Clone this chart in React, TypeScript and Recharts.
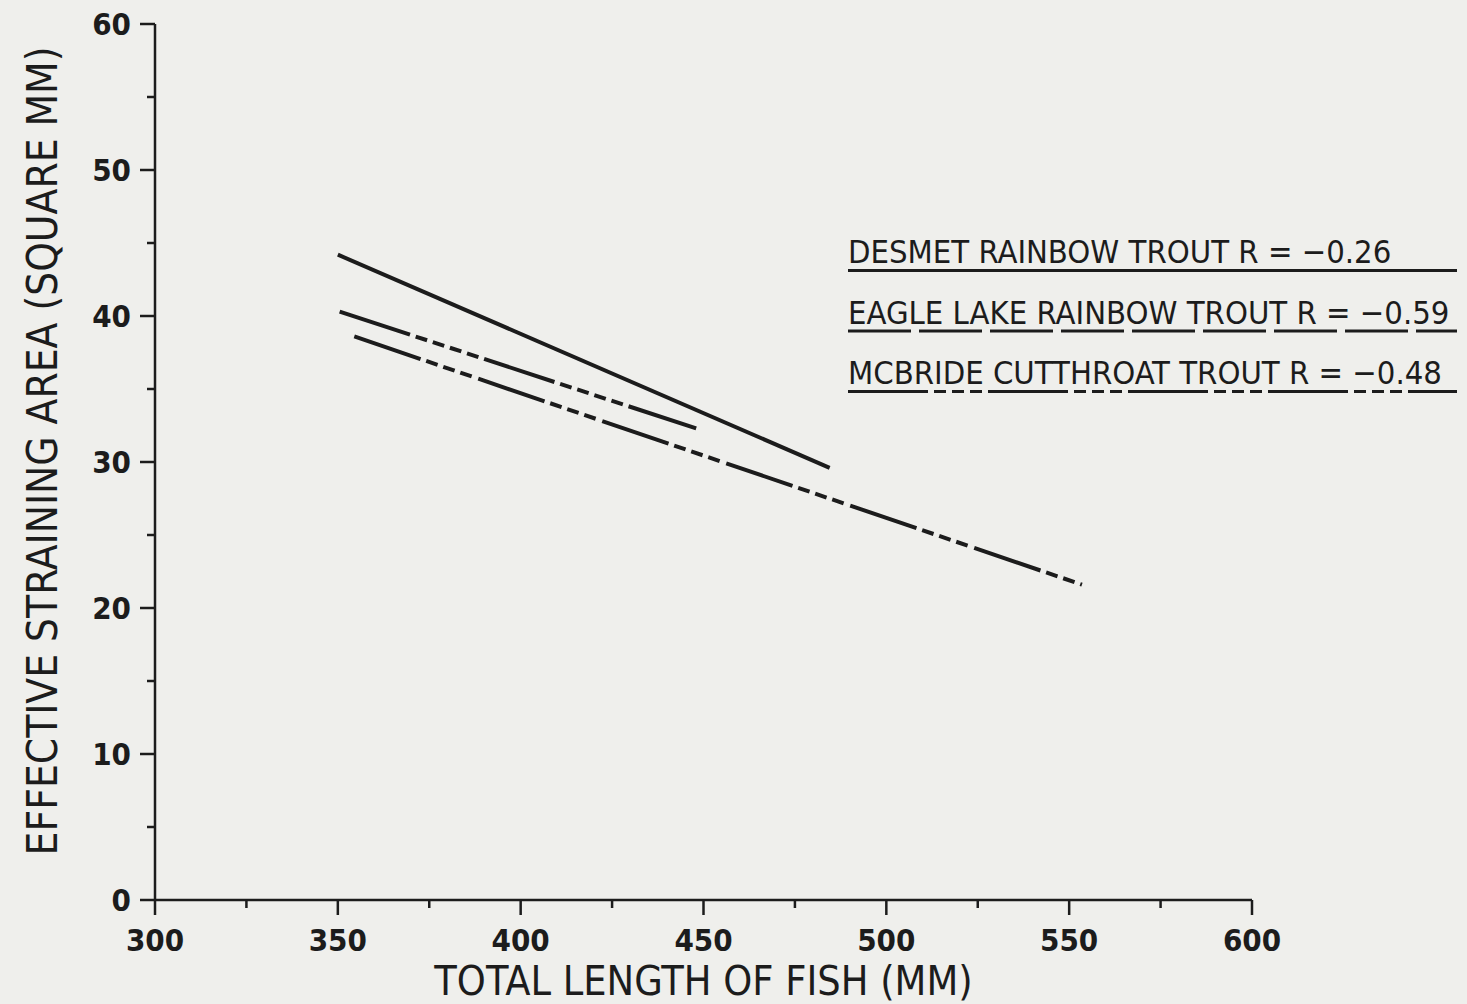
import React from 'react';
import { LineChart, Line, XAxis, YAxis, Legend } from 'recharts';

const INK = '#1c1c1c';
const PAPER = '#efefec';
const FONT = "'DejaVu Sans Condensed', 'DejaVu Sans', sans-serif";

const seriesNames = ['DESMET RAINBOW TROUT', 'EAGLE LAKE RAINBOW TROUT', 'MCBRIDE CUTTHROAT TROUT'];
const seriesR = ['−0.26', '−0.59', '−0.48'];

// regression lines, end points
const desmetLength = [350, 484.5];
const desmetArea = [44.2, 29.6];
const eagleLength = [350.5, 448];
const eagleArea = [40.3, 32.3];
const mcbrideLength = [354.5, 553.5];
const mcbrideArea = [38.6, 21.6];

const lengthTicks = [300, 325, 350, 375, 400, 425, 450, 475, 500, 525, 550, 575, 600];
const areaTicks = [0, 5, 10, 15, 20, 25, 30, 35, 40, 45, 50, 55, 60];

const toPoints = (xs: number[], ys: number[]) => xs.map((x, i) => ({ length: x, area: ys[i] }));

const lineDash = ['', '74 6 12 6 12 6 12 6 12 6', '70 6 12 6 12 6 12 7'];
const legendDash = ['', '63 8', '80 6 12 6 12 6 12 6'];

const series = [
    toPoints(desmetLength, desmetArea),
    toPoints(eagleLength, eagleArea),
    toPoints(mcbrideLength, mcbrideArea),
];

function XTick(props: any) {
    const { x, y, payload } = props;
    const major = payload.value % 50 === 0;
    return (
        <g>
            <line x1={x} y1={y} x2={x} y2={y + (major ? 15 : 8)} stroke={INK} strokeWidth={2.5} />
            {major && (
                <text x={x} y={y + 51} textAnchor="middle" fill={INK}
                    style={{ fontFamily: FONT, fontSize: 31, fontWeight: 'bold' }}>
                    {payload.value}
                </text>
            )}
        </g>
    );
}

function YTick(props: any) {
    const { x, y, payload } = props;
    const major = payload.value % 10 === 0;
    return (
        <g>
            <line x1={x - (major ? 15 : 8)} y1={y} x2={x} y2={y} stroke={INK} strokeWidth={2.5} />
            {major && (
                <text x={x - 24} y={y + 11} textAnchor="end" fill={INK}
                    style={{ fontFamily: FONT, fontSize: 31, fontWeight: 'bold' }}>
                    {payload.value}
                </text>
            )}
        </g>
    );
}

function YTitle(props: any) {
    const { viewBox } = props;
    const cy = viewBox.y + viewBox.height / 2 - 11;
    return (
        <text x={57} y={cy} transform={`rotate(-90 57 ${cy})`} textAnchor="middle" fill={INK}
            style={{ fontFamily: FONT, fontSize: 42 }}>
            EFFECTIVE STRAINING AREA (SQUARE MM)
        </text>
    );
}

function KeyBox() {
    return (
        <svg width={620} height={170} style={{ display: 'block' }}>
            {seriesNames.map((name, i) => {
                const base = 33 + i * 60.5;
                return (
                    <g key={name}>
                        <text x={2} y={base} fill={INK} style={{ fontFamily: FONT, fontSize: 32.5 }}>
                            {`${name} R = ${seriesR[i]}`}
                        </text>
                        <line x1={2} x2={611} y1={base + 7.5} y2={base + 7.5} stroke={INK}
                            strokeWidth={3} strokeDasharray={legendDash[i] || undefined} />
                    </g>
                );
            })}
        </svg>
    );
}

export default function App() {
    return (
        <div style={{ position: 'absolute', left: 0, top: 0, width: 1467, height: 1004, background: PAPER }}>
            <LineChart width={1467} height={1004} margin={{ top: 24, right: 215, left: 1, bottom: 0 }}>
                <XAxis
                    type="number"
                    dataKey="length"
                    domain={[300, 600]}
                    ticks={lengthTicks}
                    interval={0}
                    height={104}
                    tickSize={0}
                    tickMargin={0}
                    tickLine={false}
                    axisLine={{ stroke: INK, strokeWidth: 2.5 }}
                    tick={<XTick />}
                    allowDataOverflow
                    label={{
                        value: 'TOTAL LENGTH OF FISH (MM)',
                        position: 'insideBottom',
                        offset: 9,
                        fill: INK,
                        style: { fontFamily: FONT, fontSize: 41 },
                    }}
                />
                <YAxis
                    type="number"
                    domain={[0, 60]}
                    ticks={areaTicks}
                    interval={0}
                    width={154}
                    tickSize={0}
                    tickMargin={0}
                    tickLine={false}
                    axisLine={{ stroke: INK, strokeWidth: 2.5 }}
                    tick={<YTick />}
                    label={<YTitle />}
                />
                <Legend
                    layout="horizontal"
                    verticalAlign="middle"
                    align="center"
                    content={() => <KeyBox />}
                    wrapperStyle={{ left: 846, top: 230, width: 620 }}
                />
                {series.map((pts, i) => (
                    <Line
                        key={seriesNames[i]}
                        data={pts}
                        dataKey="area"
                        name={seriesNames[i]}
                        type="linear"
                        stroke={INK}
                        strokeWidth={4}
                        strokeDasharray={lineDash[i] || undefined}
                        dot={false}
                        activeDot={false}
                        isAnimationActive={false}
                    />
                ))}
            </LineChart>
        </div>
    );
}
